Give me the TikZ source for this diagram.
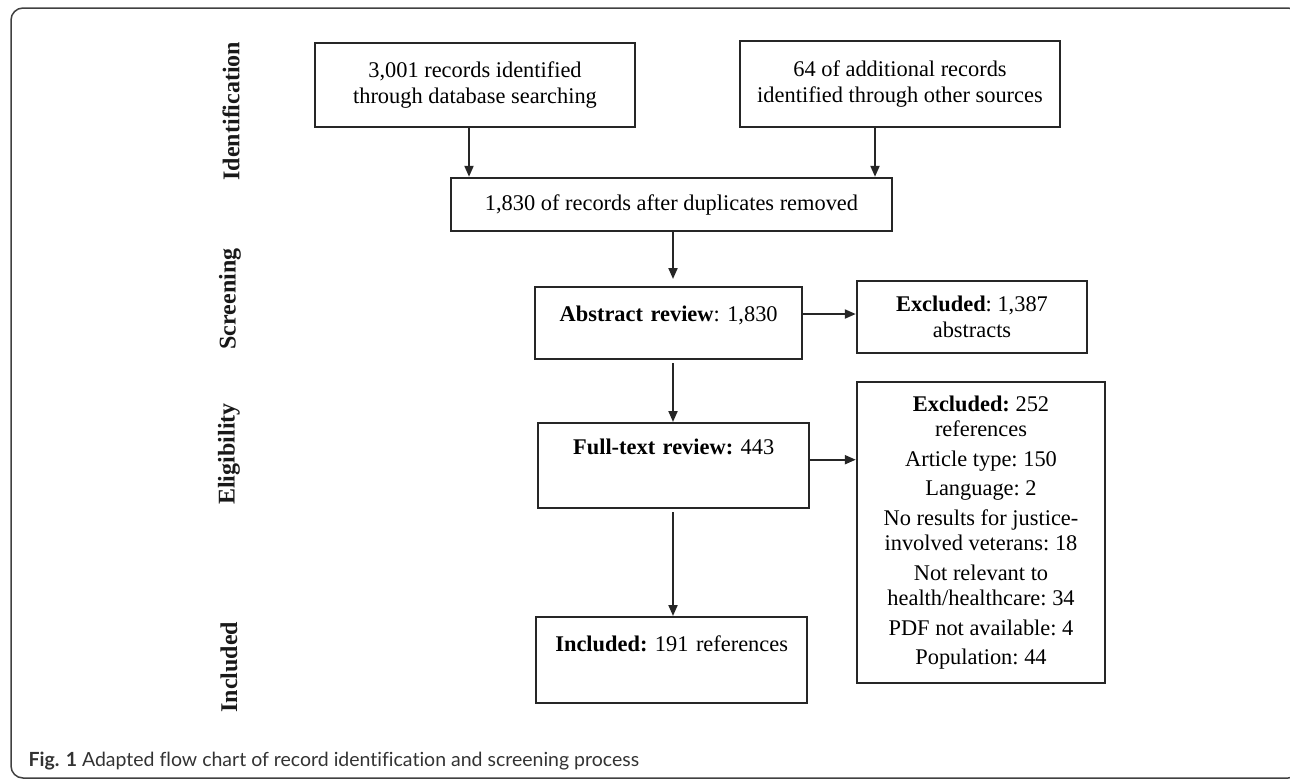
\documentclass[tikz,border=0pt]{standalone}
\usepackage{fontspec}
\setmainfont{Liberation Serif}
\newfontfamily\capfont[Ligatures=NoCommon]{Lato}
\usetikzlibrary{arrows.meta,positioning,calc}

\begin{document}
\begin{tikzpicture}[x=1pt,y=-1pt,
	box/.style={draw=black!85,line width=2.4pt,align=center,inner sep=4pt,font=\fontsize{22.4}{25.5}\selectfont\frenchspacing},
	revbox/.style={box,anchor=north west},
	arr/.style={-{Triangle[length=11pt,width=9pt]},line width=2pt,draw=black!85,fill=black!85},
	phase/.style={rotate=90,text=black!90,font=\fontsize{24}{24}\selectfont\bfseries}]
	\useasboundingbox (0,0) rectangle (1290,780);
	\draw[black!75,line width=1.5pt,rounded corners=12pt] (11,8) rectangle (1300,778);
	\node[phase] (idf) at (231,111) {Identification};
	\node[phase] (scr) at (230,299) {Screening};
	\node[phase] (elg) at (229,454) {Eligibility};
	\node[phase] (inc) at (229,667) {Included};
	\node[box,minimum width=320pt,minimum height=84pt] (rec) at (475,85) {3,001 records identified\\through database searching};
	\node[box,minimum width=320pt,minimum height=86pt] (oth) at (900,84) {64 of additional records\\identified through other sources};
	\node[box,minimum width=441pt,minimum height=53pt] (dup) at (671.5,204.5) {1,830 of records after duplicates removed};
	\node[revbox,text width=259pt,text height=30pt,text depth=34pt] (abs) at (534,286) {\textbf{Abstract review}: 1,830};
	\node[revbox,text width=263pt,text height=27pt,text depth=50pt] (ful) at (537,422) {\textbf{Full-text review:} 443};
	\node[revbox,text width=263pt,text height=30pt,text depth=48pt] (gin) at (535,616) {\textbf{Included:} 191 references};
	\node[box,minimum width=230pt,minimum height=72pt] (exa) at (972,317) {\textbf{Excluded}: 1,387\\abstracts};
	\node[box,minimum width=248pt,minimum height=301pt] (exf) at (981,532.5) {\textbf{Excluded:} 252\\references\\[4pt]Article type: 150\\[4pt]Language: 2\\[4pt]No results for justice-\\involved veterans: 18\\[4pt]Not relevant to\\health/healthcare: 34\\[4pt]PDF not available: 4\\[4pt]Population: 44};
	\coordinate (mid) at (673,0);
	\draw[arr] ([xshift=-6pt]rec.south) -- ([xshift=-6pt]rec.south |- dup.north);
	\draw[arr] ([xshift=-25pt]oth.south) -- ([xshift=-25pt]oth.south |- dup.north);
	\draw[arr,shorten >=7pt] (dup.south -| mid) -- (abs.north -| mid);
	\draw[arr,shorten <=3pt] (abs.south -| mid) -- (ful.north -| mid);
	\draw[arr,shorten <=3pt] (ful.south -| mid) -- (gin.north -| mid);
	\draw[arr] ([yshift=3pt]abs.east |- exa.west) -- ([yshift=3pt]exa.west);
	\draw[arr] ([yshift=6pt]ful.east) -- ([yshift=6pt]ful.east -| exf.west);
	\node[anchor=base west,text=black!80,font=\capfont\fontsize{19.5}{19.5}\selectfont] (cap) at (25,766) {\textbf{Fig. 1} Adapted flow chart of record identification and screening process};
\end{tikzpicture}
\end{document}
